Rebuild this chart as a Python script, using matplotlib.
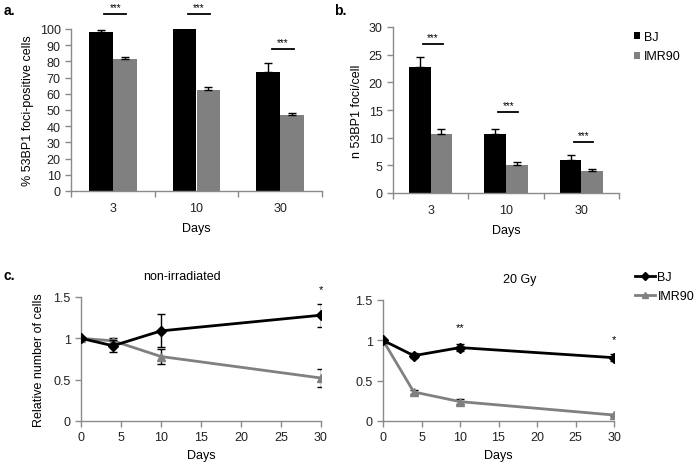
import numpy as np
import matplotlib
import matplotlib.pyplot as plt
from matplotlib.lines import Line2D
matplotlib.use('Agg')

plt.rcParams['font.family'] = ['Liberation Sans', 'DejaVu Sans']

# panel a / b data
days_cat = ['3', '10', '30']
pos_bj = [98.2, 99.8, 73.6]
pos_bj_err = [1.3, 0.3, 5.2]
pos_imr = [81.5, 62.5, 47.1]
pos_imr_err = [1.5, 1.5, 0.9]
pos_sig = [109.3, 109.3, 87.7]

foci_bj = [22.8, 10.7, 6.0]
foci_bj_err = [1.7, 0.9, 0.9]
foci_imr = [10.7, 5.1, 3.9]
foci_imr_err = [0.9, 0.5, 0.4]
foci_sig = [26.9, 14.6, 9.2]

# panel c data
days = [0, 4, 10, 30]
ctrl_bj = [1.0, 0.91, 1.09, 1.28]
ctrl_bj_err = [0.02, 0.07, 0.2, 0.14]
ctrl_imr = [1.0, 0.97, 0.78, 0.52]
ctrl_imr_err = [0.02, 0.03, 0.09, 0.11]
irr_bj = [1.0, 0.81, 0.91, 0.785]
irr_bj_err = [0.02, 0.03, 0.04, 0.04]
irr_imr = [1.0, 0.36, 0.24, 0.074]
irr_imr_err = [0.01, 0.02, 0.03, 0.01]

GRAY = '#808080'
AXC = '#8a8a8a'
W, H = 695, 464


def rect(x0, x1, y_top, y_bot):
    return [x0 / W, 1 - y_bot / H, (x1 - x0) / W, (y_bot - y_top) / H]


def style(ax):
    for s in ['top', 'right']:
        ax.spines[s].set_visible(False)
    for s in ['left', 'bottom']:
        ax.spines[s].set_color(AXC)
        ax.spines[s].set_linewidth(1)
    ax.tick_params(which='both', colors=AXC, labelcolor='#222222', labelsize=9,
                   direction='out', length=4, width=1)


def bar_panel(ax, bj, bj_err, imr, imr_err, sig, ymax, ystep, ylabel, dy):
    x = np.arange(len(days_cat))
    w = 0.286
    ax.bar(x - w / 2, bj, w, color='black', label='BJ',
           yerr=[[0] * 3, bj_err], capsize=3, error_kw=dict(lw=1, capthick=1))
    ax.bar(x + w / 2, imr, w, color=GRAY, label='IMR90',
           yerr=[[0] * 3, imr_err], capsize=3, error_kw=dict(lw=1, capthick=1))
    for xi, s in zip(x, sig):
        ax.plot([xi - 0.1, xi + 0.16], [s, s], color='black', lw=1.3, clip_on=False)
        ax.text(xi + 0.03, s + dy, '***', ha='center', va='bottom', fontsize=7)
    ax.set_xlim(-0.5, 2.5)
    ax.set_ylim(0, ymax)
    ax.set_yticks(np.arange(0, ymax + 0.1, ystep))
    ax.set_xticks(x)
    ax.set_xticklabels(days_cat)
    ax.set_xticks([-0.5, 0.5, 1.5, 2.5], minor=True)
    style(ax)
    ax.tick_params(axis='x', which='major', length=0, pad=8)
    ax.set_xlabel('Days', fontsize=9, labelpad=6)
    ax.set_ylabel(ylabel, fontsize=9, labelpad=4)


def line_panel(ax, bj, bj_err, imr, imr_err):
    ax.errorbar(days, bj, yerr=bj_err, color='black', lw=2, marker='D', ms=5,
                capsize=3, elinewidth=1, ecolor='black', zorder=3)
    ax.errorbar(days, imr, yerr=imr_err, color=GRAY, lw=2, marker='^', ms=6,
                capsize=3, elinewidth=1, ecolor='black', zorder=2)
    ax.set_xlim(0, 30)
    ax.set_ylim(0, 1.5)
    ax.set_xticks(range(0, 31, 5))
    ax.set_yticks([0, 0.5, 1, 1.5])
    ax.set_yticklabels(['0', '0.5', '1', '1.5'])
    style(ax)
    ax.set_xlabel('Days', fontsize=9, labelpad=4)
    for s in ax.spines.values():
        s.set_clip_on(False)


fig = plt.figure(figsize=(6.95, 4.64), dpi=100)

ax_a = fig.add_axes(rect(71, 322, 30, 192))
bar_panel(ax_a, pos_bj, pos_bj_err, pos_imr, pos_imr_err, pos_sig, 100, 10,
          '% 53BP1 foci-positive cells', 1.2)

ax_b = fig.add_axes(rect(393, 619, 28, 194))
bar_panel(ax_b, foci_bj, foci_bj_err, foci_imr, foci_imr_err, foci_sig, 30, 5,
          'n 53BP1 foci/cell', 0.4)
ax_b.legend(loc='upper left', bbox_to_anchor=(634 / W, 1 - 32 / H),
            bbox_transform=fig.transFigure, borderaxespad=0, borderpad=0,
            frameon=False, fontsize=9, handlelength=0.5, handleheight=0.5,
            handletextpad=0.3, labelspacing=0.6)

ax_c1 = fig.add_axes(rect(81, 321, 298, 422))
line_panel(ax_c1, ctrl_bj, ctrl_bj_err, ctrl_imr, ctrl_imr_err)
ax_c1.set_ylabel('Relative number of cells', fontsize=9, labelpad=6)
ax_c1.text(30, 1.53, '*', ha='center', va='bottom', fontsize=8)

ax_c2 = fig.add_axes(rect(383, 614, 301, 422))
line_panel(ax_c2, irr_bj, irr_bj_err, irr_imr, irr_imr_err)
ax_c2.text(10, 1.1, '**', ha='center', va='bottom', fontsize=8)
ax_c2.text(30, 0.95, '*', ha='center', va='bottom', fontsize=8)
handles = [Line2D([], [], color='black', lw=2, marker='D', ms=4),
           Line2D([], [], color=GRAY, lw=2, marker='^', ms=5)]
ax_c2.legend(handles, ['BJ', 'IMR90'], loc='upper left',
             bbox_to_anchor=(635 / W, 1 - 272 / H), bbox_transform=fig.transFigure,
             borderaxespad=0, borderpad=0, frameon=False, fontsize=9,
             handlelength=1.6, handletextpad=0.2, labelspacing=0.6)

fig.text(182 / W, 1 - 277 / H, 'non-irradiated', ha='center', va='center', fontsize=9)
fig.text(520 / W, 1 - 280 / H, '20 Gy', ha='center', va='center', fontsize=9)

fig.text(4 / W, 1 - 11 / H, 'a.', fontsize=10, fontweight='bold', va='center')
fig.text(334 / W, 1 - 11 / H, 'b.', fontsize=10, fontweight='bold', va='center')
fig.text(4 / W, 1 - 276 / H, 'c.', fontsize=10, fontweight='bold', va='center')

fig.savefig('out.png', dpi=100)
